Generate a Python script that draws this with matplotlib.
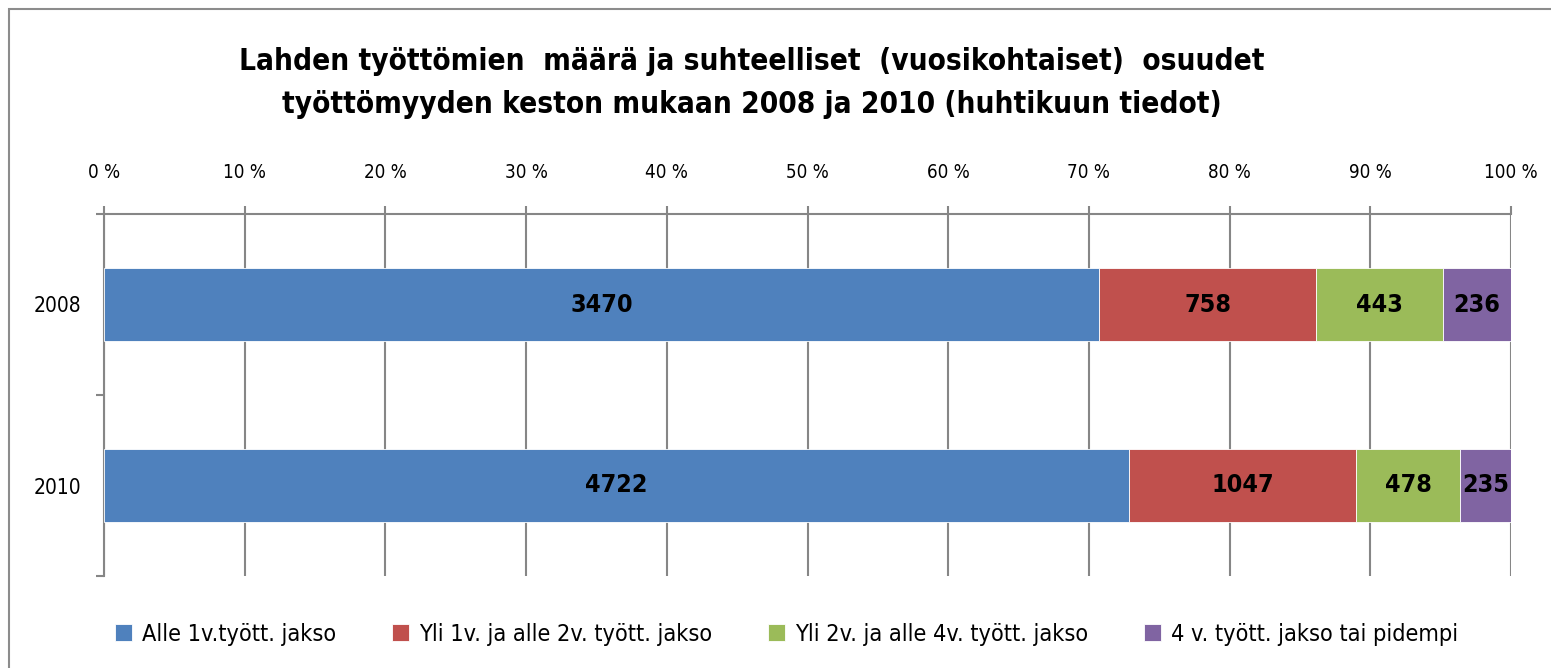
import matplotlib.pyplot as plt
from matplotlib.patches import Rectangle
from matplotlib.ticker import FixedLocator, StrMethodFormatter

years = ["2008", "2010"]
series = [
    "Alle 1v.tyött. jakso",
    "Yli 1v. ja alle 2v. tyött. jakso",
    "Yli 2v. ja alle 4v. tyött. jakso",
    "4 v. tyött. jakso tai pidempi",
]
counts_2008 = [3470, 758, 443, 236]
counts_2010 = [4722, 1047, 478, 235]
colors = ["#4F81BD", "#C0504D", "#9BBB59", "#8064A2"]

plt.rcParams['font.family'] = ['DejaVu Sans']
plt.rcParams['font.stretch'] = 'condensed'

fig = plt.figure(figsize=(15.51, 6.68), dpi=100)
fig.patches.append(Rectangle((9 / 1551, -0.1), 1.2, 1 - 9 / 668 + 0.1,
                             transform=fig.transFigure, fill=False,
                             edgecolor="#8c8c8c", lw=1.5))
ax = fig.add_axes([104 / 1551, 1 - 576 / 668, 1407 / 1551, 362 / 668])

rows = [counts_2008, counts_2010]
totals = [sum(r) for r in rows]
grey = "#868686"

for j, name in enumerate(series):
    vals = [r[j] for r in rows]
    shares = [100 * v / t for v, t in zip(vals, totals)]
    lefts = [100 * sum(r[:j]) / t for r, t in zip(rows, totals)]
    bars = ax.barh(range(len(years)), shares, left=lefts, height=0.4,
                   color=colors[j], edgecolor="white", linewidth=0.6,
                   label=name, zorder=3)
    ax.bar_label(bars, labels=[str(v) for v in vals], label_type="center",
                 fontsize=18, fontweight="bold", color="black")

ax.set_xlim(0, 100)
ax.set_ylim(1.5, -0.5)
ax.xaxis.set_major_locator(FixedLocator(range(0, 101, 10)))
ax.xaxis.set_major_formatter(StrMethodFormatter("{x:.0f} %"))
ax.xaxis.tick_top()
ax.tick_params(axis="x", direction="out", length=6, width=1.5, color=grey,
               pad=17, labelsize=13.5)
ax.set_yticks(range(len(years)))
ax.set_yticklabels(years)
ax.set_yticks([-0.5, 0.5, 1.5], minor=True)
ax.tick_params(axis="y", which="major", length=0, pad=16.5, labelsize=15)
ax.tick_params(axis="y", which="minor", length=6, width=1.5, color=grey)
ax.grid(axis="x", color=grey, lw=1.5, zorder=0)
ax.set_axisbelow(True)
for s in ["right", "bottom"]:
    ax.spines[s].set_visible(False)
for s in ["top", "left"]:
    ax.spines[s].set_color(grey)
    ax.spines[s].set_linewidth(1.5)

fig.text(0.485, 1 - 83 / 668,
         "Lahden työttömien  määrä ja suhteelliset  (vuosikohtaiset)  osuudet\n"
         "työttömyyden keston mukaan 2008 ja 2010 (huhtikuun tiedot)",
         ha="center", va="center", fontsize=21.3, fontweight="bold",
         linespacing=1.6)

fig.legend(loc="center", bbox_to_anchor=(0.507, 1 - 634 / 668), ncol=4,
           frameon=False, fontsize=16.8, handlelength=0.75, handleheight=0.75,
           handletextpad=0.4, columnspacing=2.4)

fig.savefig("out.png", dpi=100)
